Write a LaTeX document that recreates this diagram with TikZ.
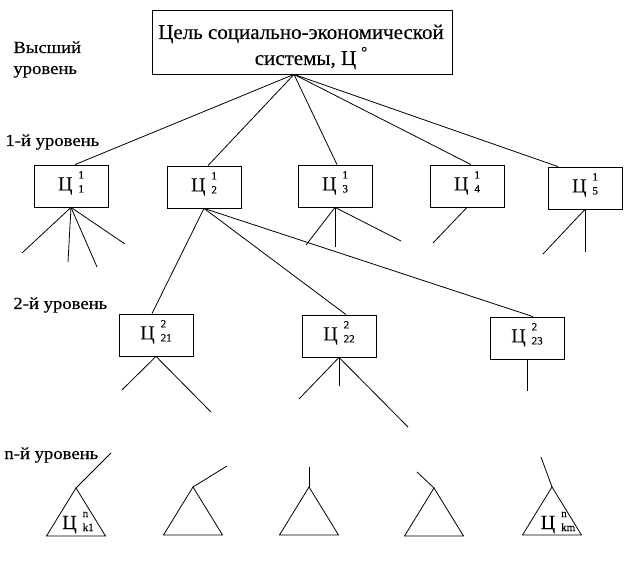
\documentclass[tikz,border=0pt]{standalone}
\usepackage{fontspec}
\setmainfont[FakeBold=0.3]{Liberation Serif}
\newfontfamily\lvlfont[FakeBold=0.3,FakeStretch=1.1]{Liberation Serif}
\usetikzlibrary{positioning}
\tikzset{goaltop/.style={rectangle,draw=black,fill=white,
inner sep=2pt,minimum height=64pt, minimum width=300pt}}
\tikzset{goalbox/.style={rectangle,draw=black,fill=white,
inner sep=2pt,minimum height=42pt, minimum width=74pt,font=\fontsize{20}{24}\selectfont}}
\tikzset{goaltext/.style={inner sep=0pt,anchor=base,font=\fontsize{21}{25}\selectfont}}
\tikzset{levellabel/.style={inner sep=0pt,anchor=base west,align=left,font=\lvlfont\fontsize{17}{21}\selectfont}}
\newcommand{\idx}{\fontsize{11}{12}\selectfont}
\newcommand{\goal}[2]{Ц\hspace{6pt}\rlap{\raisebox{12pt}[0pt][0pt]{\idx #1}}\raisebox{-2pt}[0pt][0pt]{\idx #2}}

\begin{document}
\begin{tikzpicture}[x=1pt,y=-1pt,line width=0.8pt]
        \useasboundingbox (0,0) rectangle (643,561);

        % levels
        \node[levellabel] (lvltop) at (13,74) {Высший\\уровень};
        \node[levellabel] (lvlone) at (5,146) {1-й уровень};
        \node[levellabel] (lvltwo) at (13,309) {2-й уровень};
        \node[levellabel] (lvln) at (4,459) {n-й уровень};

        % goal of the system
        \node[goaltop] (top) at (302,42) {};
        \node[goaltext] (toplineA) at (301,39) {Цель социально-экономической};
        \node[goaltext] (toplineB) at (311,65) {системы, Ц\hspace{5pt}\raisebox{8pt}{\fontsize{15}{15}\selectfont °}};
        \coordinate (topfoot) at ([xshift=-8pt]top.south);

        % 1st level
        \node[goalbox] (g1) at (71,186) {\goal{1}{1}};
        \node[goalbox] (g2) at (204,187) {\goal{1}{2}};
        \node[goalbox] (g3) at (335,186) {\goal{1}{3}};
        \node[goalbox] (g4) at (467,186) {\goal{1}{4}};
        \node[goalbox] (g5) at (585,188) {\goal{1}{5}};

        \draw (topfoot) -- ([xshift=4pt]g1.north);
        \draw (topfoot) -- ([xshift=4pt]g2.north);
        \draw (topfoot) -- ([xshift=2pt]g3.north);
        \draw (topfoot) -- ([xshift=4pt]g4.north);
        \draw (topfoot) -- ([xshift=-27pt]g5.north);

        % 2nd level
        \node[goalbox] (g21) at (156,335) {\goal{2}{21}};
        \node[goalbox] (g22) at (339,336) {\goal{2}{22}};
        \node[goalbox] (g23) at (527,338) {\goal{2}{23}};

        \draw (g2.south) -- ([xshift=-4pt]g21.north);
        \draw (g2.south) -- ([xshift=7pt]g22.north);
        \draw (g2.south) -- ([xshift=6pt]g23.north);

        % loose branches
        \coordinate (g1a) at (22,253);
        \coordinate (g1b) at (68,262);
        \coordinate (g1c) at (97,267);
        \coordinate (g1d) at (125,244);
        \draw (g1.south) -- (g1a);
        \draw (g1.south) -- (g1b);
        \draw (g1.south) -- (g1c);
        \draw (g1.south) -- (g1d);

        \coordinate (g3a) at (306,245);
        \coordinate (g3b) at (335,247);
        \coordinate (g3c) at (401,241);
        \draw (g3.south) -- (g3a);
        \draw (g3.south) -- (g3b);
        \draw (g3.south) -- (g3c);

        \coordinate (g4a) at (433,243);
        \draw (g4.south) -- (g4a);

        \coordinate (g5a) at (543,254);
        \coordinate (g5b) at (585,252);
        \draw (g5.south) -- (g5a);
        \draw (g5.south) -- (g5b);

        \coordinate (g21a) at (122,390);
        \coordinate (g21b) at (211,412);
        \draw (g21.south) -- (g21a);
        \draw (g21.south) -- (g21b);

        \coordinate (g22a) at (299,399);
        \coordinate (g22b) at (339,386);
        \coordinate (g22c) at (408,427);
        \draw (g22.south) -- (g22a);
        \draw (g22.south) -- (g22b);
        \draw (g22.south) -- (g22c);

        \coordinate (g23a) at (527,391);
        \draw (g23.south) -- (g23a);

        % n-th level
        \coordinate (t1) at (76,488);
        \coordinate (t2) at (193,487);
        \coordinate (t3) at (309,487);
        \coordinate (t4) at (434,488);
        \coordinate (t5) at (552,487);
        \draw (t1) -- ++(-29.5,48) -- ++(59,0) -- cycle;
        \draw (t2) -- ++(-29.5,48) -- ++(59,0) -- cycle;
        \draw (t3) -- ++(-29.5,48) -- ++(59,0) -- cycle;
        \draw (t4) -- ++(-29.5,48) -- ++(59,0) -- cycle;
        \draw (t5) -- ++(-29.5,48) -- ++(59,0) -- cycle;

        \node[goaltext,font=\fontsize{20}{24}\selectfont] (t1lab) at (78,529) {\goal{n}{k1}};
        \node[goaltext,font=\fontsize{20}{24}\selectfont] (t5lab) at (558,529) {\goal{n}{km}};

        \coordinate (t1up) at (111,453);
        \coordinate (t2up) at (227,466);
        \coordinate (t3up) at (309,467);
        \coordinate (t4up) at (417,472);
        \coordinate (t5up) at (541,457);
        \draw (t1) -- (t1up);
        \draw (t2) -- (t2up);
        \draw (t3) -- (t3up);
        \draw (t4) -- (t4up);
        \draw (t5) -- (t5up);

    \end{tikzpicture}
\end{document}
